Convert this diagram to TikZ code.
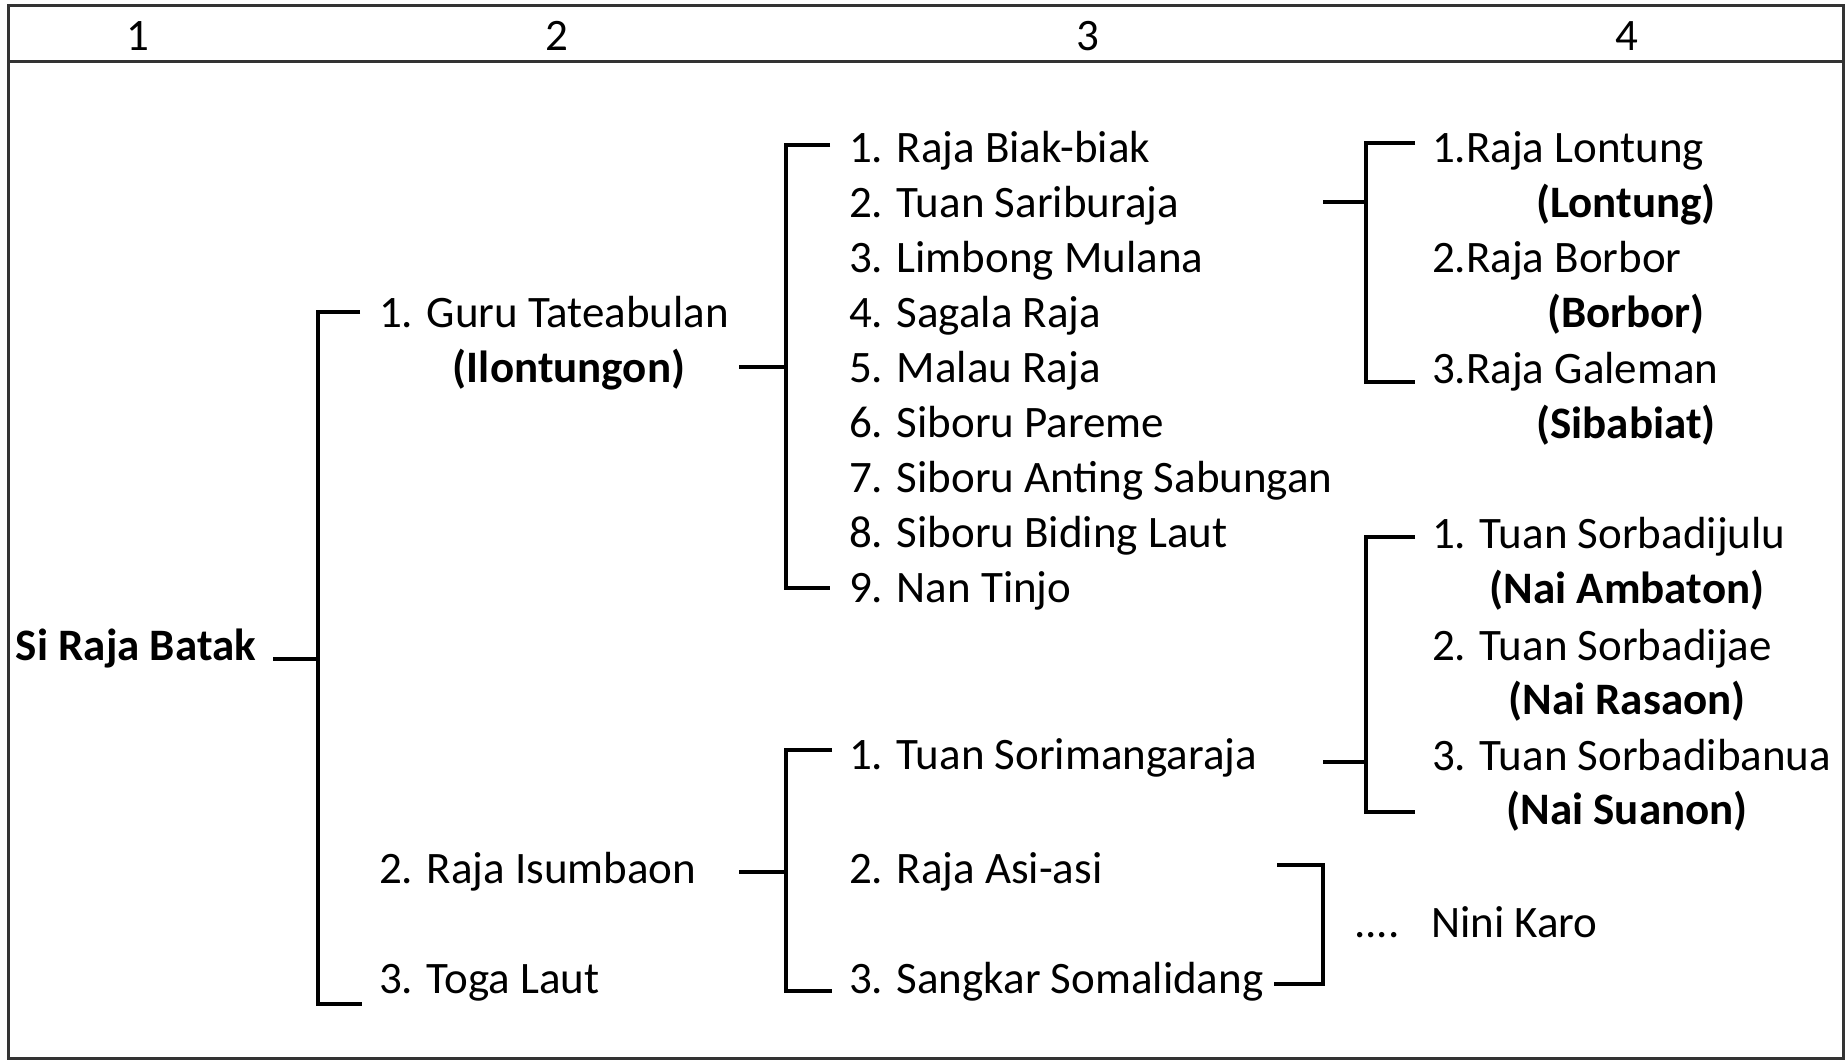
\documentclass[tikz,border=0pt]{standalone}
\usepackage{fontspec}
\setmainfont{Carlito}

\begin{document}
\begin{tikzpicture}[x=1pt,y=-1pt,line width=4pt,
                    font=\fontsize{45}{55}\selectfont]
  \tikzstyle{person}=[anchor=base west,inner sep=0pt]
  \tikzstyle{marga}=[anchor=base,inner sep=0pt,font=\fontsize{45}{55}\selectfont\bfseries]
  \tikzstyle{colnum}=[anchor=base,inner sep=0pt]
  \tikzstyle{tableline}=[line width=3pt,draw=black!80]

  \useasboundingbox (0,0) rectangle (1845,1060);

  % table frame and header
  \draw[tableline] (8,5) rectangle (1843,1058);
  \draw[tableline] (8,61) -- (1843,61);
  \node[colnum] (h1) at (138,50)  {1};
  \node[colnum] (h2) at (557,50)  {2};
  \node[colnum] (h3) at (1088,50) {3};
  \node[colnum] (h4) at (1627,50) {4};

  % columns 1 and 2
  \node[person,font=\fontsize{45}{55}\selectfont\bfseries] (batak) at (14,660) {Si Raja Batak};
  \node[person] (guru) at (377,327) {1. Guru Tateabulan};
  \node[marga]  (ilon) at (569,382) {(Ilontungon)};
  \node[person] (isum) at (377,883) {2. Raja Isumbaon};
  \node[person] (toga) at (377,993) {3. Toga Laut};

  % column 3
  \foreach \txt [count=\i] in {1. Raja Biak-biak, 2. Tuan Sariburaja,
      3. Limbong Mulana, 4. Sagala Raja, 5. Malau Raja, 6. Siboru Pareme,
      7. Siboru Anting Sabungan, 8. Siboru Biding Laut, 9. Nan Tinjo}
    \node[person] (c\i) at (847,{162+(\i-1)*55}) {\txt};
  \node[person] (sori)    at (847,769) {1. Tuan Sorimangaraja};
  \node[person] (asi)     at (847,883) {2. Raja Asi-asi};
  \node[person] (sangkar) at (847,993) {3. Sangkar Somalidang};

  % column 4
  \node[person] (lon)  at (1430,162) {1.Raja Lontung};
  \node[marga]  (lonm) at (1626,217) {(Lontung)};
  \node[person] (bor)  at (1430,272) {2.Raja Borbor};
  \node[marga]  (borm) at (1626,327) {(Borbor)};
  \node[person] (gal)  at (1430,383) {3.Raja Galeman};
  \node[marga]  (galm) at (1626,438) {(Sibabiat)};

  \node[person] (sj)  at (1430,548) {1. Tuan Sorbadijulu};
  \node[marga]  (sjm) at (1627,603) {(Nai Ambaton)};
  \node[person] (sa)  at (1430,660) {2. Tuan Sorbadijae};
  \node[marga]  (sam) at (1627,714) {(Nai Rasaon)};
  \node[person] (sb)  at (1430,770) {3. Tuan Sorbadibanua};
  \node[marga]  (sbm) at (1627,824) {(Nai Suanon)};

  \node[person] (dots) at (1352,937) {....};
  \node[person] (karo) at (1429,937) {Nini Karo};

  % brackets
  \coordinate (rootin)  at (273,659);
  \coordinate (rootsp)  at (318,659);
  \coordinate (roottop) at (360,312);
  \coordinate (rootbot) at (362,1004);
  \draw (rootin) -- (rootsp);
  \draw (roottop) -- (roottop -| rootsp) -- (rootbot -| rootsp) -- (rootbot);

  \coordinate (guruin)  at (739,367);
  \coordinate (gurusp)  at (786,367);
  \coordinate (gurutop) at (830,145);
  \coordinate (gurubot) at (830,588);
  \draw (guruin) -- (gurusp);
  \draw (gurutop) -- (gurutop -| gurusp) -- (gurubot -| gurusp) -- (gurubot);

  \coordinate (sariin)  at (1323,202);
  \coordinate (sarisp)  at (1366,202);
  \coordinate (saritop) at (1415,143);
  \coordinate (saribot) at (1415,382);
  \draw (sariin) -- (sarisp);
  \draw (saritop) -- (saritop -| sarisp) -- (saribot -| sarisp) -- (saribot);

  \coordinate (isumin)  at (739,872);
  \coordinate (isumsp)  at (786,872);
  \coordinate (isumtop) at (832,750);
  \coordinate (isumbot) at (832,991);
  \draw (isumin) -- (isumsp);
  \draw (isumtop) -- (isumtop -| isumsp) -- (isumbot -| isumsp) -- (isumbot);

  \coordinate (soriin)  at (1323,762);
  \coordinate (sorisp)  at (1366,762);
  \coordinate (soritop) at (1415,537);
  \coordinate (soribot) at (1415,812);
  \draw (soriin) -- (sorisp);
  \draw (soritop) -- (soritop -| sorisp) -- (soribot -| sorisp) -- (soribot);

  \coordinate (karotop) at (1277,865);
  \coordinate (karosp)  at (1323,865);
  \coordinate (karobot) at (1274,984);
  \draw (karotop) -- (karosp) -- (karobot -| karosp) -- (karobot);
\end{tikzpicture}
\end{document}
